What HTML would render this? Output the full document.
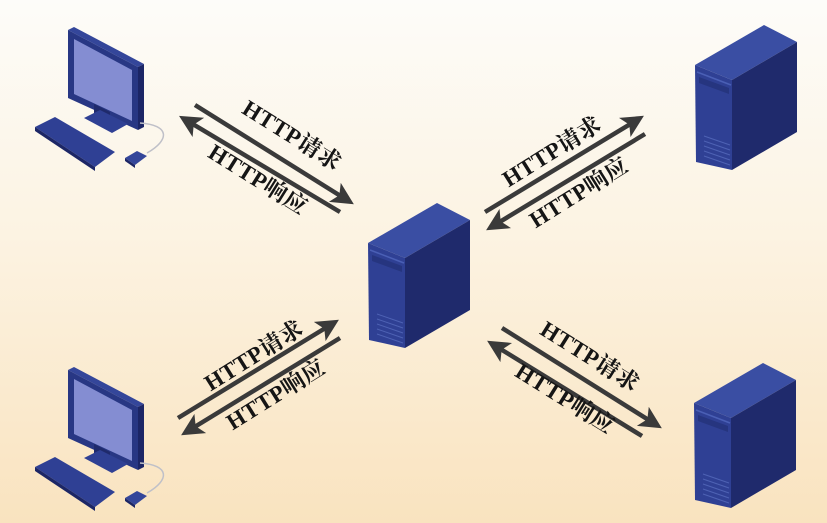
<!DOCTYPE html>
<html><head><meta charset="utf-8">
<style>
html,body{margin:0;padding:0;}
body{width:827px;height:523px;overflow:hidden;background:linear-gradient(#fdfcf9 0%,#fcf3e2 45%,#f9e3bf 100%);}
svg{display:block;}
text{font-family:"Liberation Serif","Noto Serif CJK SC",serif;font-weight:bold;font-size:23px;letter-spacing:0.5px;fill:#151515;}
</style></head>
<body>
<svg width="827" height="523" viewBox="0 0 827 523">
<defs>
<marker id="ah" markerWidth="5" markerHeight="5" refX="3.2" refY="2.5" orient="auto" markerUnits="strokeWidth">
<path d="M0,0 L5,2.5 L0,5 L1.2,2.5 Z" fill="#3a3a3a"/>
</marker>
<g id="server">
<polygon points="368,243 405,258 470,220 437,203" fill="#3a4ea3"/>
<polygon points="405,258 470,220 470,310 405,348" fill="#1f2a6c"/>
<polygon points="368,243 405,258 405,348 369,340" fill="#2f4094"/>
<polygon points="372,255 402,266 402,272 372,261" fill="#26357f"/>
<line x1="370" y1="250" x2="404" y2="263" stroke="#4a5fb5" stroke-width="1.5"/>
<g stroke="#4e62b4" stroke-width="1">
<line x1="377" y1="314" x2="403" y2="323"/><line x1="377" y1="319" x2="403" y2="328"/>
<line x1="377" y1="324" x2="403" y2="333"/><line x1="377" y1="329" x2="403" y2="338"/>
<line x1="377" y1="334" x2="403" y2="343"/>
</g>
</g>
<g id="pc">
<polygon points="68,30 138,67 144,64 74,27" fill="#34469a"/>
<polygon points="138,67 144,64 144,127 138,130" fill="#1c2666"/>
<polygon points="68,30 138,67 138,130 68,98" fill="#283784"/>
<polygon points="74,39 132,70 132,121 74,94" fill="#848dd2"/>
<polygon points="94,104 110,112 110,126 94,118" fill="#1f2a6c"/>
<polygon points="84,118 100,110 128,124 112,133" fill="#2f4094"/>
<polygon points="35,127 55,117 115,152 95,167" fill="#2f4094"/>
<polygon points="35,127 95,167 95,171 35,131" fill="#1c2666"/>
<path d="M140,123 C170,125 170,140 147,153" stroke="#bfc0c8" stroke-width="1.5" fill="none"/>
<polygon points="125,158 137,151 147,156 135,165" fill="#34469a"/>
<polygon points="125,158 135,165 135,168 125,161" fill="#1c2666"/>
</g>
</defs>

<use href="#pc"/>
<use href="#pc" transform="translate(0,340)"/>
<use href="#server"/>
<use href="#server" transform="translate(327,-178)"/>
<use href="#server" transform="translate(326,160)"/>

<g stroke="#3a3a3a" stroke-width="4.5" fill="none" marker-end="url(#ah)">
<line x1="195" y1="105" x2="347" y2="200"/>
<line x1="340" y1="212" x2="186" y2="120"/>
<line x1="485" y1="212" x2="637" y2="120"/>
<line x1="645" y1="134" x2="493" y2="226"/>
<line x1="178" y1="418" x2="332" y2="324"/>
<line x1="340" y1="338" x2="188" y2="431"/>
<line x1="502" y1="328" x2="655" y2="424"/>
<line x1="642" y1="436" x2="494" y2="345"/>
</g>

<text x="288" y="142" text-anchor="middle" transform="rotate(32 288 142)">HTTP请求</text>
<text x="254" y="186" text-anchor="middle" transform="rotate(32 254 186)">HTTP响应</text>
<text x="556" y="158" text-anchor="middle" transform="rotate(-32 556 158)">HTTP请求</text>
<text x="583" y="199" text-anchor="middle" transform="rotate(-32 583 199)">HTTP响应</text>
<text x="258" y="362" text-anchor="middle" transform="rotate(-32 258 362)">HTTP请求</text>
<text x="280" y="401" text-anchor="middle" transform="rotate(-32 280 401)">HTTP响应</text>
<text x="586" y="363" text-anchor="middle" transform="rotate(32 586 363)">HTTP请求</text>
<text x="561" y="405" text-anchor="middle" transform="rotate(32 561 405)">HTTP响应</text>
</svg>
</body></html>
